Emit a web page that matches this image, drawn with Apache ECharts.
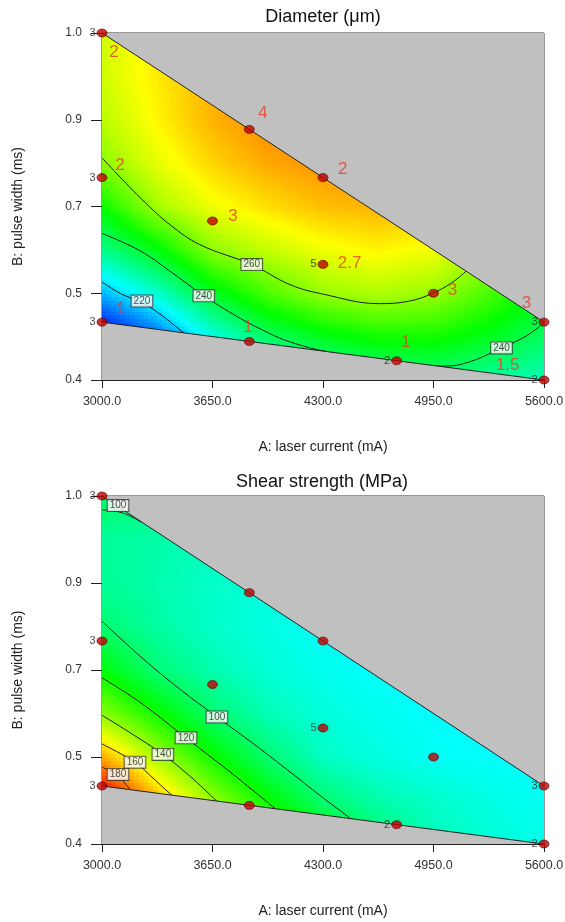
<!DOCTYPE html>
<html>
<head>
<meta charset="utf-8">
<script src="https://cdn.jsdelivr.net/npm/echarts@6/dist/echarts.min.js"></script>
<style>
  html, body { margin: 0; padding: 0; background: #fff; }
  #chart { width: 565px; height: 922px; }
</style>
</head>
<body>
<div id="chart"></div>
<script>
  // 设计空间网格: A 激光电流 (mA), B 轴向刻度 0..4 (标签 0.4 .. 1.0)
  const gridA = [3000, 3325, 3650, 3975, 4300, 4625, 4950, 5275, 5600];
  const gridB = [0, 0.5, 1, 1.5, 2, 2.5, 3, 3.5, 4];
  const xTickValues = [3000, 3650, 4300, 4950, 5600];
  const yTickLabels = ['0.4', '0.5', '0.7', '0.9', '1.0'];

  // 响应面读数 (行 = gridB, 列 = gridA)
  const diameterGrid = [
    [180, 193, 210, 223, 230, 233, 235, 232, 230],
    [198, 210, 226, 238, 244, 248, 248, 244, 238],
    [217, 228, 243, 253, 260, 262, 260, 253, 245],
    [234, 245, 259, 264, 268, 270, 268, 262, 252],
    [247, 261, 268, 272, 275, 276, 275, 270, 262],
    [259, 267, 273, 277, 279, 279, 277, 272, 265],
    [263, 270, 276, 280, 281, 280, 277, 272, 266],
    [265, 271, 276, 279, 280, 279, 276, 271, 265],
    [265, 271, 275, 278, 279, 278, 275, 270, 264]
  ];
  const shearGrid = [
    [220, 200, 165, 139, 120, 102, 90, 85, 82],
    [205, 170, 142, 119, 101, 92, 87, 83, 80],
    [171, 144, 120, 101, 88, 83, 80, 79, 79],
    [140, 120, 101, 90, 84, 81, 79, 78, 78],
    [117, 100, 91, 85, 81, 79, 78, 78, 78],
    [101, 93, 87, 83, 80, 79, 78, 78, 78],
    [95, 91, 87, 84, 82, 80, 79, 79, 79],
    [94, 92, 89, 86, 84, 82, 81, 80, 80],
    [104, 99, 93, 89, 86, 84, 83, 82, 82]
  ];
  const diameterRange = [201, 292];
  const shearRange = [39, 197];

  // 设计点
  const pointA = [3000, 3000, 3000, 3866.7, 3650, 4300, 4300, 3866.7, 4733.3, 4950, 5600, 5600];
  const pointB = [4, 2.333, 0.667, 2.889, 1.833, 2.333, 1.333, 0.444, 0.222, 1.0, 0.667, 0];
  const replicates = [3, 3, 3, 1, 1, 1, 5, 1, 2, 1, 3, 2];

  // 可行域边界
  const edgeTop = [[3000, 4], [5600, 0.667]];
  const edgeBottom = [[3000, 0.667], [5600, 0]];

  // 等值线 (直径)
  const dia220 = [[3000, 1.13], [3106, 1.00], [3235, 0.89], [3341, 0.76], [3476, 0.55], [3520, 0.48]];
  const dia240 = [[3000, 1.69], [3223, 1.49], [3417, 1.23], [3593, 0.98], [3770, 0.76], [3940, 0.58], [4105, 0.44],
    [4340, 0.32], [4634, 0.23], [4869, 0.17], [5016, 0.16], [5163, 0.21], [5351, 0.37], [5498, 0.51], [5600, 0.66]];
  const dia260 = [[3000, 2.56], [3106, 2.34], [3241, 2.07], [3400, 1.79], [3576, 1.56], [3881, 1.33], [4105, 1.10],
    [4300, 0.99], [4634, 0.88], [4810, 0.91], [4945, 1.00], [5057, 1.12], [5145, 1.26]];
  // 等值线 (剪切强度)
  const shear100a = [[3000, 3.84], [3094, 3.82], [3176, 3.76], [3230, 3.70]];
  const shear100b = [[3000, 2.56], [3241, 2.13], [3458, 1.78], [3676, 1.46], [3899, 1.14], [4105, 0.83], [4281, 0.56], [4457, 0.30], [4545, 0.16]];
  const shear120 = [[3000, 1.91], [3223, 1.63], [3494, 1.22], [3752, 0.83], [4017, 0.41], [4075, 0.32]];
  const shear140 = [[3000, 1.48], [3165, 1.28], [3358, 1.03], [3517, 0.78], [3682, 0.48], [3723, 0.41]];
  const shear160 = [[3000, 1.15], [3194, 0.94], [3282, 0.79], [3411, 0.56], [3447, 0.51]];
  const shear180 = [[3000, 0.885], [3094, 0.78], [3165, 0.63], [3190, 0.58]];

  const diaContourLabels = [[3235, 0.91, '220'], [3599, 0.97, '240'], [3881, 1.33, '260'], [5350, 0.37, '240']];
  const shearContourLabels = [[3094, 3.89, '100'], [3676, 1.46, '100'], [3494, 1.22, '120'], [3358, 1.03, '140'],
    [3194, 0.94, '160'], [3094, 0.80, '180']];
  const diaRunLabels = [[3071, 3.78, '2'], [3946, 3.07, '4'], [3106, 2.47, '2'], [3770, 1.89, '3'], [4416, 2.43, '2'],
    [4457, 1.35, '2.7'], [5062, 1.03, '3'], [5497, 0.88, '3'], [4786, 0.43, '1'], [5386, 0.17, '1.5'],
    [3112, 0.81, '1'], [3858, 0.61, '1']];

  const FONT = 'Arial, "Liberation Sans", sans-serif';

  // 蓝 -> 青 -> 绿 -> 黄 -> 红
  function heat(v, lo, hi) {
    let t = (v - lo) / (hi - lo);
    t = Math.max(0, Math.min(1, t));
    const h = 4 * (1 - t);
    const i = Math.min(3, Math.floor(h)), f = h - i;
    let r, g, b;
    if (i === 0) { r = 1; g = f; b = 0; }
    else if (i === 1) { r = 1 - f; g = 1; b = 0; }
    else if (i === 2) { r = 0; g = 1; b = f; }
    else { r = 0; g = 1 - f; b = 1; }
    return 'rgb(' + Math.round(r * 255) + ',' + Math.round(g * 255) + ',' + Math.round(b * 255) + ')';
  }

  function fieldSeries(grid, range, idx) {
    const cells = [];
    for (let j = 0; j < gridB.length - 1; j++) {
      for (let i = 0; i < gridA.length - 1; i++) {
        cells.push([gridA[i], gridB[j], gridA[i + 1], gridB[j + 1],
          grid[j][i], grid[j][i + 1], grid[j + 1][i], grid[j + 1][i + 1]]);
      }
    }
    return {
      type: 'custom', xAxisIndex: idx, yAxisIndex: idx, silent: true, z: 1,
      encode: { x: [0, 2], y: [1, 3] },
      data: cells,
      renderItem: function (params, api) {
        const cs = params.coordSys;
        const p0 = api.coord([api.value(0), api.value(1)]);
        const p1 = api.coord([api.value(2), api.value(3)]);
        const v00 = api.value(4), v10 = api.value(5), v01 = api.value(6), v11 = api.value(7);
        const N = 12, children = [];
        const dx = (p1[0] - p0[0]) / N, dy = (p1[1] - p0[1]) / N;
        for (let a = 0; a < N; a++) {
          for (let b = 0; b < N; b++) {
            const s = (a + 0.5) / N, r = (b + 0.5) / N;
            const v = v00 * (1 - s) * (1 - r) + v10 * s * (1 - r) + v01 * (1 - s) * r + v11 * s * r;
            const x0 = Math.max(cs.x, p0[0] + a * dx);
            const x1 = Math.min(cs.x + cs.width, p0[0] + (a + 1) * dx + 0.6);
            const y0 = Math.max(cs.y, p0[1] + (b + 1) * dy);
            const y1 = Math.min(cs.y + cs.height, p0[1] + b * dy + 0.6);
            children.push({
              type: 'rect',
              shape: { x: x0, y: y0, width: x1 - x0, height: y1 - y0 },
              style: { fill: heat(v, range[0], range[1]) }
            });
          }
        }
        return { type: 'group', children: children };
      }
    };
  }

  function maskSeries(edge, origin, idx) {
    return {
      type: 'line', xAxisIndex: idx, yAxisIndex: idx, data: edge, symbol: 'none', silent: true, z: 3,
      lineStyle: { color: '#222', width: 1 },
      areaStyle: { color: '#c0c0c0', opacity: 1, origin: origin }
    };
  }

  function contourSeries(pts, idx) {
    return {
      type: 'line', xAxisIndex: idx, yAxisIndex: idx, data: pts, smooth: 0.4, symbol: 'none', silent: true, z: 2,
      lineStyle: { color: '#1e1e1e', width: 1 }
    };
  }

  function contourLabelSeries(items, idx) {
    return {
      type: 'scatter', xAxisIndex: idx, yAxisIndex: idx, data: items, symbolSize: 1, silent: true, z: 4,
      itemStyle: { color: 'transparent' },
      label: {
        show: true, position: 'inside', formatter: p => p.value[2],
        fontSize: 10, fontFamily: FONT, color: '#222',
        backgroundColor: '#fff', borderColor: '#333', borderWidth: 1, padding: [1, 2, 0, 2]
      }
    };
  }

  function pointSeries(idx) {
    const pts = pointA.map((a, k) => [a, pointB[k], replicates[k]]);
    return {
      type: 'scatter', xAxisIndex: idx, yAxisIndex: idx, data: pts, z: 5, silent: true,
      symbolSize: [10, 8],
      itemStyle: { color: '#c00000', borderColor: '#5a0000', borderWidth: 0.8 },
      label: {
        show: true, position: 'left', distance: 1, fontSize: 11, fontFamily: FONT, color: '#222',
        formatter: p => (p.value[2] > 1 ? String(p.value[2]) : '')
      }
    };
  }

  function xAxis(idx) {
    return {
      gridIndex: idx, type: 'value', min: 3000, max: 5600,
      name: 'A: laser current (mA)', nameLocation: 'middle', nameGap: 60,
      nameTextStyle: { fontSize: 14, color: '#222', fontFamily: FONT },
      axisLine: { onZero: false, lineStyle: { color: '#222' } },
      axisTick: { length: 8, customValues: xTickValues, lineStyle: { color: '#222' } },
      axisLabel: { margin: 15, fontSize: 12.5, color: '#333', fontFamily: FONT,
        customValues: xTickValues, formatter: v => v.toFixed(1) },
      splitLine: { show: false }
    };
  }

  function yAxis(idx) {
    return {
      gridIndex: idx, type: 'value', min: 0, max: 4, interval: 1,
      name: 'B: pulse width (ms)', nameLocation: 'middle', nameGap: 77, nameRotate: 90,
      nameTextStyle: { fontSize: 14, color: '#222', fontFamily: FONT },
      axisLine: { onZero: false, lineStyle: { color: '#222' } },
      axisTick: { length: 11, lineStyle: { color: '#222' } },
      axisLabel: { margin: 20, fontSize: 12, color: '#333', fontFamily: FONT,
        formatter: v => yTickLabels[Math.round(v)] },
      splitLine: { show: false }
    };
  }

  function colorBar(x, y, lo, hi) {
    return [
      { type: 'rect', shape: { x: x, y: y, width: 63, height: 19 },
        style: { fill: new echarts.graphic.LinearGradient(0, 0, 1, 0, [
          { offset: 0, color: '#0010e0' }, { offset: 0.5, color: '#10f010' }, { offset: 1, color: '#e02010' }]),
          stroke: '#111', lineWidth: 1.5 } },
      { type: 'text', x: x - 11, y: y + 10,
        style: { text: lo, font: '14px ' + FONT, fill: '#222', align: 'right', verticalAlign: 'middle' } },
      { type: 'text', x: x + 72, y: y + 10,
        style: { text: hi, font: '14px ' + FONT, fill: '#222', align: 'left', verticalAlign: 'middle' } }
    ];
  }

  const chart = echarts.init(document.getElementById('chart'), null, { renderer: 'canvas' });

  const gridBase = { left: 102, width: 442, show: true, borderColor: '#333', borderWidth: 1,
    backgroundColor: '#c0c0c0', containLabel: false, outerBoundsMode: 'none' };

  const option = {
    animation: false,
    backgroundColor: '#fff',
    grid: [
      Object.assign({ top: 33, height: 347 }, gridBase),
      Object.assign({ top: 496, height: 348 }, gridBase)
    ],
    xAxis: [xAxis(0), xAxis(1)],
    yAxis: [yAxis(0), yAxis(1)],
    graphic: [
      { type: 'text', x: 323, y: 17,
        style: { text: 'Diameter (μm)', font: '18px ' + FONT, fill: '#111', align: 'center', verticalAlign: 'middle' } },
      { type: 'text', x: 322, y: 482,
        style: { text: 'Shear strength (MPa)', font: '18px ' + FONT, fill: '#111', align: 'center', verticalAlign: 'middle' } }
    ].concat(colorBar(333, 52, String(diameterRange[0]), String(diameterRange[1])))
     .concat(colorBar(336, 512, String(shearRange[0]), String(shearRange[1]))),
    series: [
      fieldSeries(diameterGrid, diameterRange, 0),
      contourSeries(dia220, 0), contourSeries(dia240, 0), contourSeries(dia260, 0),
      maskSeries(edgeTop, 'end', 0), maskSeries(edgeBottom, 'start', 0),
      contourLabelSeries(diaContourLabels, 0),
      pointSeries(0),
      {
        type: 'scatter', xAxisIndex: 0, yAxisIndex: 0, data: diaRunLabels, symbolSize: 1, silent: true, z: 6,
        itemStyle: { color: 'transparent' },
        label: { show: true, position: 'inside', formatter: p => p.value[2], fontSize: 17, fontFamily: FONT, color: '#e4402c' }
      },

      fieldSeries(shearGrid, shearRange, 1),
      contourSeries(shear100a, 1), contourSeries(shear100b, 1), contourSeries(shear120, 1),
      contourSeries(shear140, 1), contourSeries(shear160, 1), contourSeries(shear180, 1),
      maskSeries(edgeTop, 'end', 1), maskSeries(edgeBottom, 'start', 1),
      contourLabelSeries(shearContourLabels, 1),
      pointSeries(1)
    ]
  };

  chart.setOption(option);
</script>
</body>
</html>
